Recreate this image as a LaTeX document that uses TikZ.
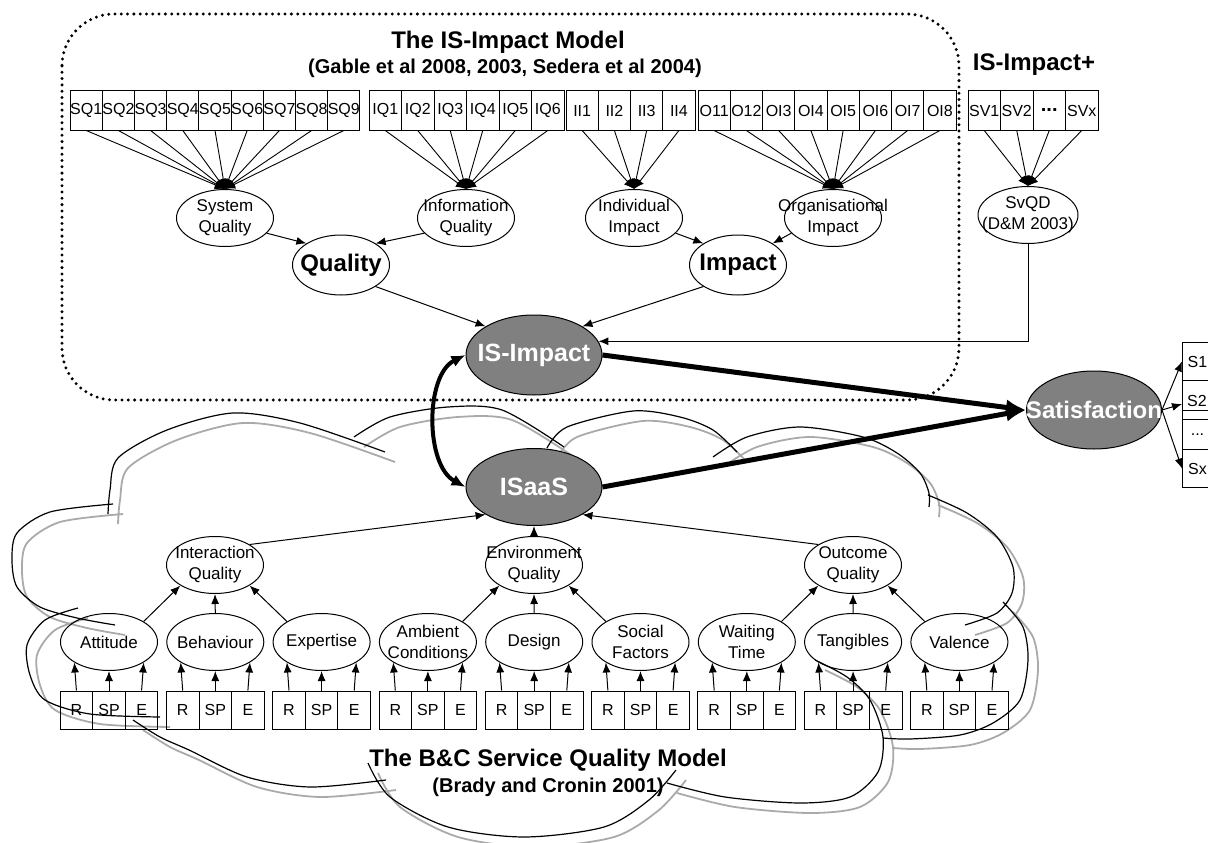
\documentclass[tikz,border=0pt]{standalone}
\usepackage{fontspec}
\setmainfont{Liberation Sans}
\usetikzlibrary{shapes.geometric,arrows.meta}
\definecolor{coregray}{RGB}{128,128,128}
\definecolor{shadegray}{RGB}{170,170,170}

\tikzset{
	item/.style={draw, line width=1pt, minimum width=32.3pt, minimum height=39pt, inner sep=0pt, font=\fontsize{16}{18}\selectfont},
	latent/.style={draw, ellipse, line width=1pt, minimum width=97pt, minimum height=57pt, inner xsep=-30pt, inner ysep=0pt, align=center, font=\fontsize{17}{21}\selectfont},
	construct/.style={draw, ellipse, line width=1pt, minimum width=97pt, minimum height=60pt, inner xsep=-20pt, inner ysep=0pt, font=\bfseries\fontsize{24}{26}\selectfont},
	core/.style={draw, ellipse, fill=coregray, line width=1pt, minimum width=136pt, minimum height=80pt, inner xsep=-45pt, inner ysep=0pt, text=white, font=\bfseries\fontsize{25}{27}\selectfont},
	fan/.style={-{Latex[length=10pt,width=9pt]}, line width=0.9pt},
	link/.style={-{Latex[length=10pt,width=8pt]}, line width=1pt},
	heavy/.style={-{Latex[length=20pt,width=16pt]}, line width=5pt},
	bump/.style={line width=1.2pt},
	bumpshade/.style={line width=1.8pt, shadegray},
	heading/.style={font=\bfseries\fontsize{24}{26}\selectfont},
	subheading/.style={font=\bfseries\fontsize{20}{22}\selectfont},
}

\newcommand{\cloudbumps}{
	plot[smooth] coordinates {(108,514) (110,490) (118,458) (167,430) (233,413) (300,423) (385,452)}
	plot[smooth] coordinates {(354,437) (390,417) (448,407) (502,410) (564,447)}
	plot[smooth] coordinates {(547,448) (567,427) (633,411) (680,417) (713,430) (737,452)}
	plot[smooth] coordinates {(713,457) (747,437) (800,427) (863,437) (897,453) (920,473) (929,493) (929,507)}
	plot[smooth] coordinates {(928,495) (967,513) (997,537) (1013,567) (1012,593) (997,613) (965,625)}
	plot[smooth] coordinates {(1003,602) (1023,627) (1028,660) (1020,700) (993,723) (960,735) (910,739) (883,738)}
	plot[smooth] coordinates {(815,660) (847,677) (870,700) (883,737) (878,772) (850,797) (800,803) (725,797) (667,783)}
	plot[smooth] coordinates {(676,770) (649,800) (604,827) (524,837) (448,827) (390,797) (368,763)}
	plot[smooth] coordinates {(386,780) (310,787) (247,777) (189,750) (160,737) (133,720)}
	plot[smooth] coordinates {(160,717) (90,714) (45,700) (30,675) (27,645) (45,620) (78,608)}
	plot[smooth] coordinates {(115,625) (77,618) (40,607) (17,587) (12,560) (17,533) (50,512) (113,504)}
}

\begin{document}
\begin{tikzpicture}[x=1pt, y=-1pt]
	\useasboundingbox (0,0) rectangle (1208,843);

	% cloud of the service quality model
	\draw[bumpshade, shift={(10,10)}] \cloudbumps;
	\draw[bump] \cloudbumps;

	% frame of the IS-Impact model
	\draw[line width=3.3pt, dash pattern=on 0pt off 6.3pt, line cap=round, rounded corners=52pt] (62,14) rectangle (959,400);

	\node[heading] (ismodel) at (508,42) {The IS-Impact Model};
	\node[subheading] (isref) at (505,68) {(Gable et al 2008, 2003, Sedera et al 2004)};
	\node[heading] (isplus) at (1034,65) {IS-Impact+};

	% measurement items
	\foreach \i in {1,...,9} \node[item] (sq\i) at (54+32.2*\i,110.5) {SQ\i};
	\foreach \i in {1,...,6} \node[item, minimum width=32.5pt] (iq\i) at (352.75+32.5*\i,110.5) {IQ\i};
	\foreach \i in {1,...,4} \node[item] (ii\i) at (549.9+32.25*\i,110.5) {II\i};
	\foreach \lbl [count=\i] in {O11,O12,OI3,OI4,OI5,OI6,OI7,OI8} \node[item] (oi\i) at (681.9+32.25*\i,110.5) {\lbl};
	\foreach \lbl [count=\i] in {SV1,SV2,\textbf{\fontsize{20}{20}\selectfont...},SVx} \node[item, minimum width=32.5pt] (sv\i) at (951.75+32.5*\i,110.5) {\lbl};

	% dimensions
	\node[latent] (sysq) at (225,218) {System\\Quality};
	\node[latent] (infoq) at (466,218) {Information\\Quality};
	\node[latent] (indi) at (634,218) {Individual\\Impact};
	\node[latent] (orgi) at (833,218) {Organisational\\Impact};
	\node[latent, minimum width=100pt] (svqd) at (1028,215) {SvQD\\(D\&M 2003)};

	\foreach \i in {1,...,9} \draw[fan] (sq\i.south) -- (sysq.north);
	\foreach \i in {1,...,6} \draw[fan] (iq\i.south) -- (infoq.north);
	\foreach \i in {1,...,4} \draw[fan] (ii\i.south) -- (indi.north);
	\foreach \i in {1,...,8} \draw[fan] (oi\i.south) -- (orgi.north);
	\foreach \i in {1,...,4} \draw[fan] (sv\i.south) -- (svqd.north);

	\node[construct] (quality) at (341,265) {Quality};
	\node[construct] (impact) at (738,265) {Impact};
	\draw[link] (sysq.-20) -- (quality.north west);
	\draw[link] (infoq.200) -- (quality.north east);
	\draw[link] (indi.-20) -- (impact.north west);
	\draw[link] (orgi.200) -- (impact.north east);

	% core constructs
	\node[core] (isimpact) at (534,355) {IS-Impact};
	\node[core, minimum height=77pt] (isaas) at (534,487) {ISaaS};
	\node[core, minimum width=135pt, minimum height=78pt, font=\bfseries\fontsize{24}{26}\selectfont] (sat) at (1094,410) {Satisfaction};

	\draw[link] (quality.south east) -- (isimpact.north west);
	\draw[link] (impact.south west) -- (isimpact.north east);
	\draw[link] (svqd.south) |- (isimpact.12);

	\draw[heavy] (isimpact.east) -- (sat.west);
	\draw[heavy] (isaas.east) -- (sat.west);
	\draw[{Latex[length=14pt,width=12pt]}-{Latex[length=14pt,width=12pt]}, line width=4pt] (isimpact.west) .. controls (425,375) and (425,465) .. (isaas.west);

	% satisfaction items
	\node[item, minimum width=30pt, minimum height=38pt, anchor=north west] (s1) at (1182,342) {S1};
	\node[item, minimum width=30pt, minimum height=39pt, anchor=north west] (s2) at (1182,380) {};
	\node[font=\fontsize{16}{18}\selectfont] at (1197,401) {S2};
	\draw[line width=1pt] (s2.west |- 0,410) -- (s2.east |- 0,410);
	\node[item, minimum width=30pt, minimum height=30pt, anchor=north west] (sdots) at (1182,419) {...};
	\node[item, minimum width=30pt, minimum height=38pt, anchor=north west] (sx) at (1182,449) {Sx};
	\draw[link] (sat.east) -- (s1.west);
	\draw[link] (sat.east) -- (s2.west |- 0,404);
	\draw[link] (sat.east) -- (sx.west);

	% service quality model
	\node[latent] (interq) at (215,565) {Interaction\\Quality};
	\node[latent] (envq) at (534,565) {Environment\\Quality};
	\node[latent] (outq) at (853,565) {Outcome\\Quality};
	\draw[link] (interq.north east) -- (isaas.south west);
	\draw[link] (envq.north) -- (isaas.south);
	\draw[link] (outq.north west) -- (isaas.south east);

	\foreach \nm/\txt [count=\i from 0] in {att/Attitude, beh/Behaviour, exp/Expertise, amb/{Ambient\\Conditions}, des/Design, soc/{Social\\Factors}, wai/{Waiting\\Time}, tan/Tangibles, val/Valence} {
		\pgfmathsetmacro\cx{109+106.3*\i}
		\node[latent] (\nm) at (\cx,642) {\txt};
		\node[item, minimum width=32.6pt, minimum height=38pt] (\nm-r) at (\cx-32.6,710) {R};
		\node[item, minimum width=32.6pt, minimum height=38pt] (\nm-sp) at (\cx,710) {SP};
		\node[item, minimum width=32.6pt, minimum height=38pt] (\nm-e) at (\cx+32.6,710) {E};
		\draw[link] (\nm-r.north) -- (\nm.south west);
		\draw[link] (\nm-sp.north) -- (\nm.south);
		\draw[link] (\nm-e.north) -- (\nm.south east);
	}
	\draw[link] (att.north east) -- (interq.south west);
	\draw[link] (beh.north) -- (interq.south);
	\draw[link] (exp.north west) -- (interq.south east);
	\draw[link] (amb.north east) -- (envq.south west);
	\draw[link] (des.north) -- (envq.south);
	\draw[link] (soc.north west) -- (envq.south east);
	\draw[link] (wai.north east) -- (outq.south west);
	\draw[link] (tan.north) -- (outq.south);
	\draw[link] (val.north west) -- (outq.south east);

	\node[heading] (bcmodel) at (548,760) {The B\&C Service Quality Model};
	\node[subheading] (bcref) at (548,787) {(Brady and Cronin 2001)};
\end{tikzpicture}
\end{document}
